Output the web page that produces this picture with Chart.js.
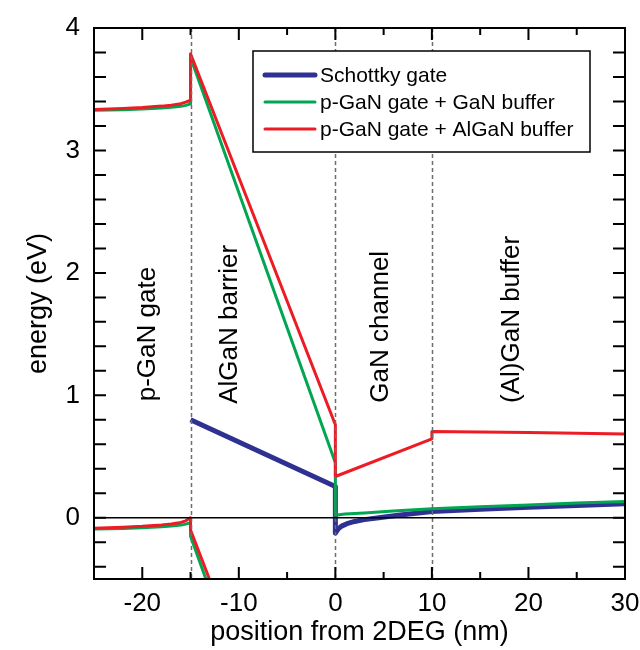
<!DOCTYPE html>
<html>
<head>
<meta charset="utf-8">
<script src="https://cdn.jsdelivr.net/npm/chart.js@4.4.1/dist/chart.umd.min.js"></script>
<style>
  html, body { margin: 0; padding: 0; background: #ffffff; }
  #wrap { width: 640px; height: 650px; }
</style>
</head>
<body>
<div id="wrap"><canvas id="bands" width="640" height="650"></canvas></div>
<script>
// Band edges (eV) against position from the 2DEG (nm).

// Schottky gate: conduction band only
const schottkyPos = [-15, 0, 0, 0.3, 0.7, 1.2, 2, 3, 4.5, 6.5, 10, 15, 20, 25, 30];
const schottkyCB  = [0.80, 0.255, -0.125, -0.09, -0.066, -0.048, -0.03, -0.015, 0.0, 0.02, 0.052, 0.07, 0.086, 0.10, 0.114];

// p-GaN gate + GaN buffer
const gaNBufCBPos = [-25, -22, -20, -18, -17, -16, -15.5, -15, -15, 0, 0, 1, 3, 6, 10, 15, 20, 25, 30];
const gaNBufCB    = [3.328, 3.333, 3.338, 3.346, 3.352, 3.36, 3.368, 3.38, 3.76, 0.45, 0.02, 0.03, 0.04, 0.055, 0.073, 0.09, 0.105, 0.12, 0.133];
const gaNBufVBPos = [-25, -22, -20, -18, -17, -16, -15.5, -15, -15, -13];
const gaNBufVB    = [-0.092, -0.087, -0.082, -0.074, -0.068, -0.06, -0.052, -0.04, -0.15, -0.59];

// p-GaN gate + AlGaN buffer
const alGaNBufCBPos = [-25, -22, -20, -18, -17, -16, -15.5, -15, -15, 0, 0, 10, 10, 20, 30];
const alGaNBufCB    = [3.335, 3.343, 3.35, 3.362, 3.37, 3.382, 3.395, 3.41, 3.79, 0.76, 0.337, 0.645, 0.705, 0.697, 0.685];
const alGaNBufVBPos = [-25, -22, -20, -18, -17, -16, -15.5, -15, -15, -13];
const alGaNBufVB    = [-0.085, -0.077, -0.07, -0.058, -0.05, -0.038, -0.025, 0.0, -0.1, -0.51];

// Legend entries, layer boundaries and layer names
const seriesNames = ['Schottky gate', 'p-GaN gate + GaN buffer', 'p-GaN gate + AlGaN buffer'];
const interfacePos = [-15, 0, 10];
const layerNames = ['p-GaN gate', 'AlGaN barrier', 'GaN channel', '(Al)GaN buffer'];

// Tick labels
const xTickLabels = [-20, -10, 0, 10, 20, 30];
const yTickLabels = [0, 1, 2, 3, 4];

// Styling / layout
const COLORS = ['#2e3192', '#00a651', '#ed1c24'];
const WIDTHS = [5, 3, 3];
const FONT = '"Liberation Sans", Arial, Helvetica, sans-serif';
const layerLabelAnchor = [[-19.4, 1.5], [-10.9, 1.58], [4.7, 1.56], [18.3, 1.62]];
const legendBox = { left: 253, top: 51, right: 590, bottom: 152, lineX0: 265, lineX1: 315, textX: 320, rowY: [75, 102, 129] };

const toPoints = (xs, ys) => xs.map((x, i) => ({ x: x, y: ys[i] }));

function bandDataset(xs, ys, idx) {
  return {
    data: toPoints(xs, ys),
    borderColor: COLORS[idx],
    backgroundColor: COLORS[idx],
    borderWidth: WIDTHS[idx],
    pointRadius: 0,
    tension: 0,
    fill: false,
    borderJoinStyle: 'round',
    borderCapStyle: 'butt',
    clip: 0
  };
}

// Interface lines, zero line, framed axes with inner ticks, layer names and legend
const decor = {
  id: 'decor',
  afterDatasetsDraw(chart) {
    const { ctx, chartArea: a, scales: { x, y } } = chart;
    ctx.save();

    // dashed interface lines
    ctx.strokeStyle = '#6d6d6d';
    ctx.lineWidth = 1.5;
    ctx.setLineDash([4, 3]);
    interfacePos.forEach(p => {
      const px = Math.round(x.getPixelForValue(p)) + 0.5;
      ctx.beginPath();
      ctx.moveTo(px, a.top);
      ctx.lineTo(px, a.bottom);
      ctx.stroke();
    });
    ctx.setLineDash([]);

    // zero energy reference
    const y0 = y.getPixelForValue(0);
    ctx.strokeStyle = '#000';
    ctx.lineWidth = 1.5;
    ctx.beginPath();
    ctx.moveTo(a.left, y0);
    ctx.lineTo(a.right, y0);
    ctx.stroke();

    // frame
    ctx.lineWidth = 2;
    ctx.strokeRect(a.left, a.top, a.right - a.left, a.bottom - a.top);

    // inner ticks on all four sides
    ctx.beginPath();
    for (let v = x.min; v <= x.max + 1e-9; v += 5) {
      const px = x.getPixelForValue(v);
      const len = Math.abs(v % 10) < 1e-9 ? 12 : 7;
      ctx.moveTo(px, a.bottom); ctx.lineTo(px, a.bottom - len);
      ctx.moveTo(px, a.top); ctx.lineTo(px, a.top + len);
    }
    for (let k = -2; k <= 20; k++) {
      const v = k * 0.2;
      if (v < y.min - 1e-9 || v > y.max + 1e-9) continue;
      const py = y.getPixelForValue(v);
      ctx.moveTo(a.left, py); ctx.lineTo(a.left + 12, py);
      ctx.moveTo(a.right, py); ctx.lineTo(a.right - 12, py);
    }
    ctx.stroke();

    // layer names, rotated
    ctx.fillStyle = '#000';
    ctx.font = '26px ' + FONT;
    ctx.textAlign = 'center';
    ctx.textBaseline = 'middle';
    layerNames.forEach((name, i) => {
      const [lx, ly] = layerLabelAnchor[i];
      ctx.save();
      ctx.translate(x.getPixelForValue(lx), y.getPixelForValue(ly));
      ctx.rotate(-Math.PI / 2);
      ctx.fillText(name, 0, 0);
      ctx.restore();
    });

    // legend
    const L = legendBox;
    ctx.fillStyle = '#fff';
    ctx.fillRect(L.left, L.top, L.right - L.left, L.bottom - L.top);
    ctx.strokeStyle = '#000';
    ctx.lineWidth = 1.5;
    ctx.strokeRect(L.left, L.top, L.right - L.left, L.bottom - L.top);
    ctx.font = '21px ' + FONT;
    ctx.textAlign = 'left';
    seriesNames.forEach((name, i) => {
      const ry = L.rowY[i];
      ctx.strokeStyle = COLORS[i];
      ctx.lineWidth = WIDTHS[i];
      ctx.lineCap = 'round';
      ctx.beginPath();
      ctx.moveTo(L.lineX0, ry);
      ctx.lineTo(L.lineX1, ry);
      ctx.stroke();
      ctx.fillStyle = '#000';
      ctx.fillText(name, L.textX, ry + 1);
    });

    ctx.restore();
  }
};

new Chart(document.getElementById('bands'), {
  type: 'line',
  data: {
    // first dataset is drawn on top
    datasets: [
      bandDataset(alGaNBufCBPos, alGaNBufCB, 2),
      bandDataset(alGaNBufVBPos, alGaNBufVB, 2),
      bandDataset(gaNBufCBPos, gaNBufCB, 1),
      bandDataset(gaNBufVBPos, gaNBufVB, 1),
      bandDataset(schottkyPos, schottkyCB, 0)
    ]
  },
  options: {
    responsive: false,
    animation: false,
    events: [],
    layout: { padding: { top: 28, right: 15, left: 0, bottom: 0 } },
    plugins: { legend: { display: false }, tooltip: { enabled: false } },
    scales: {
      x: {
        type: 'linear',
        min: -25,
        max: 30,
        afterBuildTicks: s => { s.ticks = xTickLabels.map(v => ({ value: v })); },
        afterFit: s => { s.height = 71; s.paddingLeft = 0; s.paddingRight = 0; },
        grid: { display: false, drawTicks: false },
        border: { display: false },
        ticks: { color: '#000', font: { family: FONT, size: 26 }, padding: 9, maxRotation: 0 },
        title: { display: true, text: 'position from 2DEG (nm)', color: '#000', font: { family: FONT, size: 27 }, padding: { top: 0, bottom: 1 } }
      },
      y: {
        type: 'linear',
        min: -0.5,
        max: 4,
        afterBuildTicks: s => { s.ticks = yTickLabels.map(v => ({ value: v })); },
        afterFit: s => { s.width = 94; s.paddingTop = 0; s.paddingBottom = 0; },
        grid: { display: false, drawTicks: false },
        border: { display: false },
        ticks: { color: '#000', font: { family: FONT, size: 26 }, padding: 14 },
        title: { display: true, text: 'energy (eV)', color: '#000', font: { family: FONT, size: 27 }, padding: { top: 22, bottom: 0 } }
      }
    }
  },
  plugins: [decor]
});
</script>
</body>
</html>
